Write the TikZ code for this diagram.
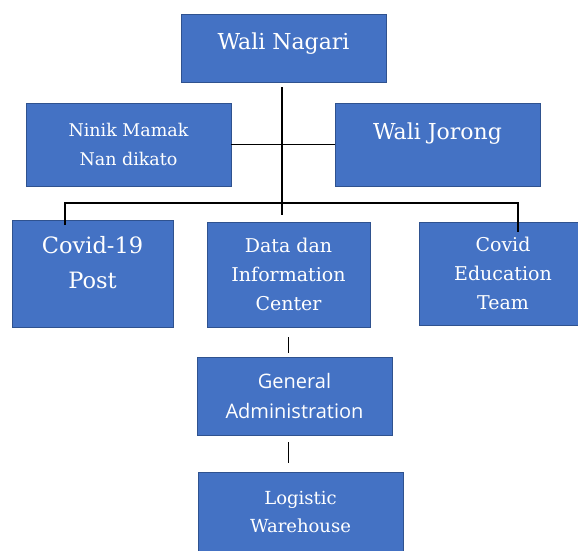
\documentclass[tikz,border=0pt]{standalone}
\usepackage{fontspec}
\newfontfamily\unitfont{DejaVu Serif}
\newfontfamily\adminfont{Open Sans}
\usepackage{xcolor}
\definecolor{boxblue}{HTML}{4472C4}
\definecolor{boxedge}{HTML}{2F528F}

\begin{document}
\begin{tikzpicture}[x=1pt, y=-1pt,
  unit/.style={draw=boxedge, line width=0.8pt, fill=boxblue, text=white, align=center, inner sep=0pt},
  link/.style={black, line width=1.6pt}]

\useasboundingbox (0,0) rectangle (578,550);

% Top of the nagari
\node[unit, minimum width=205pt, minimum height=68pt, text height=16pt, text depth=13pt, font=\unitfont\fontsize{22}{30}\selectfont] (nagari) at (283.5,48) {Wali Nagari};

% Advisers beside the trunk
\node[unit, minimum width=205pt, minimum height=83pt, font=\unitfont\fontsize{17.5}{29}\selectfont] (ninik) at (128.5,144.5) {Ninik Mamak\\Nan dikato};
\node[unit, minimum width=205pt, minimum height=83pt, text height=18pt, text depth=29pt, font=\unitfont\fontsize{22}{30}\selectfont] (jorong) at (437.5,144.5) {Wali Jorong};

% Task units
\node[unit, minimum width=161pt, minimum height=107pt, text depth=22pt, font=\unitfont\fontsize{22.5}{35}\selectfont] (post) at (92.5,273.5) {Covid-19\\Post};
\node[unit, minimum width=163pt, minimum height=105pt, font=\unitfont\fontsize{19}{29}\selectfont] (data) at (288.5,274.5) {Data dan\\Information\\Center};
\node[unit, minimum width=168pt, minimum height=103pt, font=\unitfont\fontsize{19}{29}\selectfont] (team) at (503,273.5) {Covid\\Education\\Team};

% Support units below the data center
\node[unit, minimum width=195pt, minimum height=78pt, font=\adminfont\fontsize{20}{30}\selectfont] (admin) at (294.5,396) {General\\Administration};
\node[unit, minimum width=205pt, minimum height=80pt, font=\unitfont\fontsize{18}{28}\selectfont] (logistic) at (300.5,512) {Logistic\\Warehouse};

% Trunk and branches
\coordinate (trunktop) at (282,87);
\coordinate (trunkend) at (282,215);
\coordinate (bar) at (282,203);
\coordinate (postdrop) at (65,225);
\coordinate (teamdrop) at (518,232);
\draw[link] (trunktop) -- (trunkend);
\draw[link] (ninik.east) -- (jorong.west);
\draw[link] (postdrop) |- (bar) -| (teamdrop);

% Chain under the data center
\draw[link] ([yshift=-10pt]data.south) -- ([yshift=4pt]data.south |- admin.north);
\draw[link] ([yshift=-7pt]admin.south -| data.south) -- ([yshift=9pt]logistic.north -| data.south);

\end{tikzpicture}
\end{document}
